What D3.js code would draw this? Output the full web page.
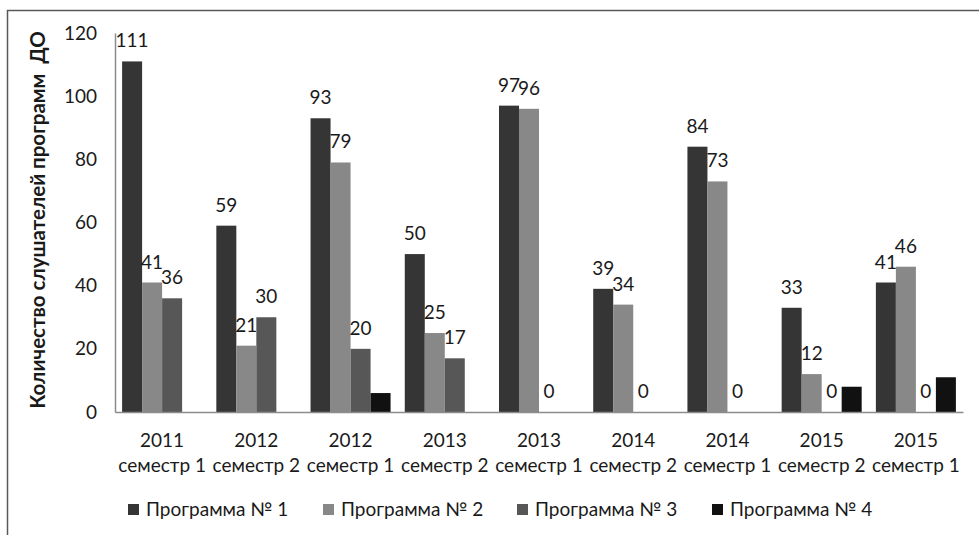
<!DOCTYPE html>
<html>
<head>
<meta charset="utf-8">
<script src="https://cdn.jsdelivr.net/npm/d3@7"></script>
<style>
  body { margin: 0; background: #fff; }
  text { font-family: Lato, "Open Sans", sans-serif; fill: #1a1a1a; }
</style>
</head>
<body>
<div id="chart"></div>
<script>
// categories: year + semester (two lines under each group)
var years = ["2011", "2012", "2012", "2013", "2013", "2014", "2014", "2015", "2015"];
var semesters = ["семестр 1", "семестр 2", "семестр 1", "семестр 2", "семестр 1",
                 "семестр 2", "семестр 1", "семестр 2", "семестр 1"];
var seriesNames = ["Программа № 1", "Программа № 2", "Программа № 3", "Программа № 4"];
var prog1 = [111, 59, 93, 50, 97, 39, 84, 33, 41];
var prog2 = [41, 21, 79, 25, 96, 34, 73, 12, 46];
var prog3 = [36, 30, 20, 17, 0, 0, 0, 0, 0];
var prog4 = [0, 0, 6, 0, 0, 0, 0, 8, 11];
var yTicks = [0, 20, 40, 60, 80, 100, 120];

var width = 979, height = 535;
var colors = ["#353535", "#888888", "#575757", "#111111"];
var showLabel = [true, true, true, false];
var fs = "19px";

var svg = d3.select("#chart").append("svg")
  .attr("width", width)
  .attr("height", height);

// outer frame
svg.append("rect")
  .attr("x", 7.5).attr("y", 10.5)
  .attr("width", 990).attr("height", 540)
  .attr("fill", "none")
  .attr("stroke", "#595959")
  .attr("stroke-width", 1.5);

var cats = d3.range(years.length);
var allSeries = [prog1, prog2, prog3, prog4];

var x0 = d3.scaleBand().domain(cats).range([115, 963]).padding(0);
var x1 = d3.scaleBand().domain(d3.range(4)).range([0, x0.bandwidth()])
  .paddingInner(0).paddingOuter(0.355);
var y = d3.scaleLinear().domain([0, 120]).range([412, 33]);

// y axis
var yAxis = svg.append("g")
  .attr("transform", "translate(115,0)")
  .call(d3.axisLeft(y).tickValues(yTicks).tickSize(0).tickSizeOuter(0).tickPadding(18));
yAxis.select(".domain").attr("stroke", "#8c8c8c").attr("stroke-width", 1.5);
yAxis.selectAll("text")
  .style("font-family", "Lato, 'Open Sans', sans-serif")
  .style("font-size", fs)
  .attr("fill", "#1a1a1a");

// bars
var groups = svg.selectAll(".grp")
  .data(cats).enter().append("g")
  .attr("class", "grp")
  .attr("transform", function(d) { return "translate(" + x0(d) + ",0)"; });

allSeries.forEach(function(vals, s) {
  groups.append("rect")
    .attr("x", x1(s))
    .attr("width", x1.bandwidth())
    .attr("y", function(d) { return y(vals[d]); })
    .attr("height", function(d) { return y(0) - y(vals[d]); })
    .attr("fill", colors[s]);
  if (showLabel[s]) {
    groups.append("text")
      .attr("x", x1(s) + x1.bandwidth() / 2)
      .attr("y", function(d) { return y(vals[d]) - 14; })
      .attr("text-anchor", "middle")
      .style("font-size", fs)
      .text(function(d) { return vals[d]; });
  }
});

// x axis
var xAxis = svg.append("g")
  .attr("transform", "translate(0,412)")
  .call(d3.axisBottom(x0).tickSize(0).tickSizeOuter(0).tickFormat(""));
xAxis.select(".domain").attr("stroke", "#8c8c8c").attr("stroke-width", 1.5);
xAxis.selectAll(".tick text").remove();
xAxis.selectAll(".tick").each(function(d) {
  var t = d3.select(this).append("text")
    .attr("text-anchor", "middle")
    .style("font-size", fs)
    .attr("fill", "#1a1a1a");
  t.append("tspan").attr("x", 0).attr("y", 35).text(years[d]);
  t.append("tspan").attr("x", 0).attr("y", 60).text(semesters[d]);
});

// y title
svg.append("text")
  .attr("transform", "translate(45,220) rotate(-90)")
  .attr("text-anchor", "middle")
  .style("font-size", "20.5px")
  .style("font-weight", "bold")
  .attr("xml:space", "preserve")
  .style("white-space", "pre")
  .text("Количество слушателей программ  ДО");

// legend
var legendX = [128, 323, 517, 712];
var legend = svg.selectAll(".legend")
  .data(seriesNames).enter().append("g")
  .attr("class", "legend")
  .attr("transform", function(d, i) { return "translate(" + legendX[i] + ",504)"; });
legend.append("rect")
  .attr("width", 11).attr("height", 11)
  .attr("fill", function(d, i) { return colors[i]; });
legend.append("text")
  .attr("x", 18).attr("y", 12)
  .style("font-size", fs)
  .text(function(d) { return d; });
</script>
</body>
</html>
